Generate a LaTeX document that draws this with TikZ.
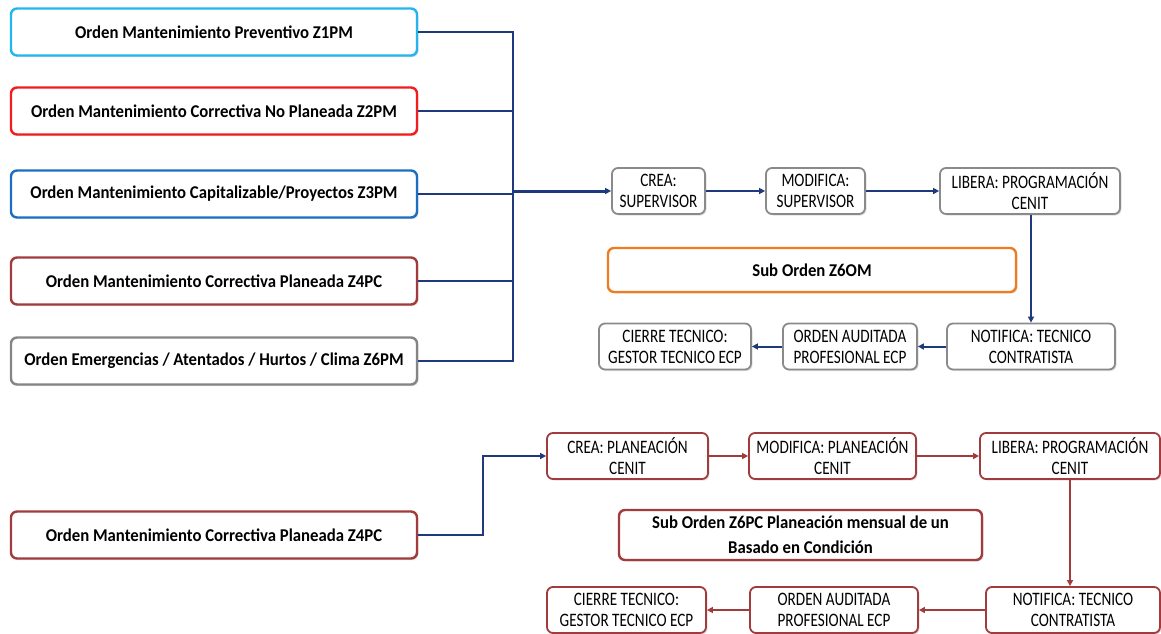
\documentclass[tikz,border=0pt]{standalone}
\usepackage{fontspec}
\setmainfont{Carlito}
\newfontfamily\condfont[FakeStretch=0.8]{Carlito}
\newfontfamily\bigfont[FakeStretch=0.93]{Carlito}
\usetikzlibrary{arrows.meta,shadows}
\definecolor{cLB}{HTML}{22B5EE}
\definecolor{cRed}{HTML}{F21C1C}
\definecolor{cBlue}{HTML}{1C6FC0}
\definecolor{cDR}{HTML}{A23B3B}
\definecolor{cGray}{HTML}{858585}
\definecolor{cOr}{HTML}{F07C22}
\definecolor{cNavy}{HTML}{1F3A7C}
\definecolor{cSm}{HTML}{8A8A8A}
\tikzset{
  bigbox/.style={draw, line width=2.4pt, rounded corners=6pt, fill=white,
    minimum width=406pt, minimum height=47pt, align=center,
    font=\bigfont\fontsize{18}{25}\selectfont\bfseries, inner sep=0pt,
    drop shadow={opacity=0.25, shadow xshift=1.5pt, shadow yshift=-1.5pt}},
  smbox/.style={draw=cSm, line width=1.8pt, rounded corners=6pt, fill=white,
    minimum height=46pt, align=center, inner sep=0pt,
    font=\condfont\fontsize{19}{21}\selectfont,
    drop shadow={opacity=0.25, shadow xshift=1.5pt, shadow yshift=-1.5pt}},
  smred/.style={smbox, draw=cDR},
  conn/.style={draw=cNavy, line width=2pt},
  connr/.style={draw=cDR, line width=2pt},
  arr/.style={-{Triangle[length=6pt,width=6pt]}},
}
\begin{document}
\begin{tikzpicture}[x=1pt,y=-1pt]
\useasboundingbox (0,0) rectangle (1161,634);
% left boxes
\node[bigbox, draw=cLB] (b1) at (214,32) {Orden Mantenimiento Preventivo Z1PM};
\node[bigbox, draw=cRed] (b2) at (214,111) {Orden Mantenimiento Correctiva No Planeada Z2PM};
\node[bigbox, draw=cBlue] (b3) at (214,194) {Orden Mantenimiento Capitalizable/Proyectos Z3PM};
\node[bigbox, draw=cDR] (b4) at (214,281) {Orden Mantenimiento Correctiva Planeada Z4PC};
\node[bigbox, draw=cGray] (b5) at (214,361) {Orden Emergencias / Atentados / Hurtos / Clima Z6PM};
% top flow
\node[smbox, minimum width=93pt] (crea) at (658.5,191) {CREA:\\SUPERVISOR};
\node[smbox, minimum width=99pt] (mod) at (815.5,191) {MODIFICA:\\SUPERVISOR};
\node[smbox, minimum width=180pt] (lib) at (1030,191) {LIBERA: PROGRAMACIÓN\\CENIT};
\node[bigbox, draw=cOr, minimum width=408pt, minimum height=44pt] (sub1) at (812,270) {Sub Orden Z6OM};
\node[smbox, minimum width=168pt] (noti) at (1031,346.5) {NOTIFICA: TECNICO\\CONTRATISTA};
\node[smbox, minimum width=134pt] (aud) at (850,346.5) {ORDEN AUDITADA\\PROFESIONAL ECP};
\node[smbox, minimum width=152pt] (cie) at (675,346.5) {CIERRE TECNICO:\\GESTOR TECNICO ECP};
% bus
\coordinate (j1) at (513,32);
\coordinate (j5) at (513,361);
\draw[conn] (b1.east) -- (j1) -- (j5) -- (b5.east);
\draw[conn] (b2.east) -- (b2.east -| j1);
\draw[conn] (b3.east) -- (b3.east -| j1);
\draw[conn] (b4.east) -- (b4.east -| j1);
\draw[conn, line width=3pt, arr] (j1 |- crea.west) -- (crea.west);
\draw[conn, arr] (crea.east) -- (mod.west);
\draw[conn, arr] (mod.east) -- (lib.west);
\draw[conn, arr] (lib.south -| noti.north) -- (noti.north);
\draw[conn, arr] (noti.west) -- (aud.east);
\draw[conn, arr] (aud.west) -- (cie.east);
% bottom
\node[bigbox, draw=cDR] (b6) at (214,535) {Orden Mantenimiento Correctiva Planeada Z4PC};
\node[smred, minimum width=161pt] (crea2) at (627.5,456) {CREA: PLANEACIÓN\\CENIT};
\node[smred, minimum width=167pt] (mod2) at (832.5,456) {MODIFICA: PLANEACIÓN\\CENIT};
\node[smred, minimum width=180pt] (lib2) at (1070,456) {LIBERA: PROGRAMACIÓN\\CENIT};
\node[bigbox, draw=cDR, minimum width=363pt, minimum height=50pt] (sub2) at (800.5,535) {Sub Orden Z6PC Planeación mensual de un\\Basado en Condición};
\node[smred, minimum width=174pt] (noti2) at (1073,610) {NOTIFICA: TECNICO\\CONTRATISTA};
\node[smred, minimum width=168pt] (aud2) at (834,610) {ORDEN AUDITADA\\PROFESIONAL ECP};
\node[smred, minimum width=159pt] (cie2) at (626.5,610) {CIERRE TECNICO:\\GESTOR TECNICO ECP};
\coordinate (k1) at (483,535);
\draw[conn, arr] (b6.east) -- (k1) |- (crea2.west);
\draw[connr, arr] (crea2.east) -- (mod2.west);
\draw[connr, arr] (mod2.east) -- (lib2.west);
\draw[connr, arr] (lib2.south) -- (lib2.south |- noti2.north);
\draw[connr, arr] (noti2.west) -- (aud2.east);
\draw[connr, arr] (aud2.west) -- (cie2.east);
\end{tikzpicture}
\end{document}
